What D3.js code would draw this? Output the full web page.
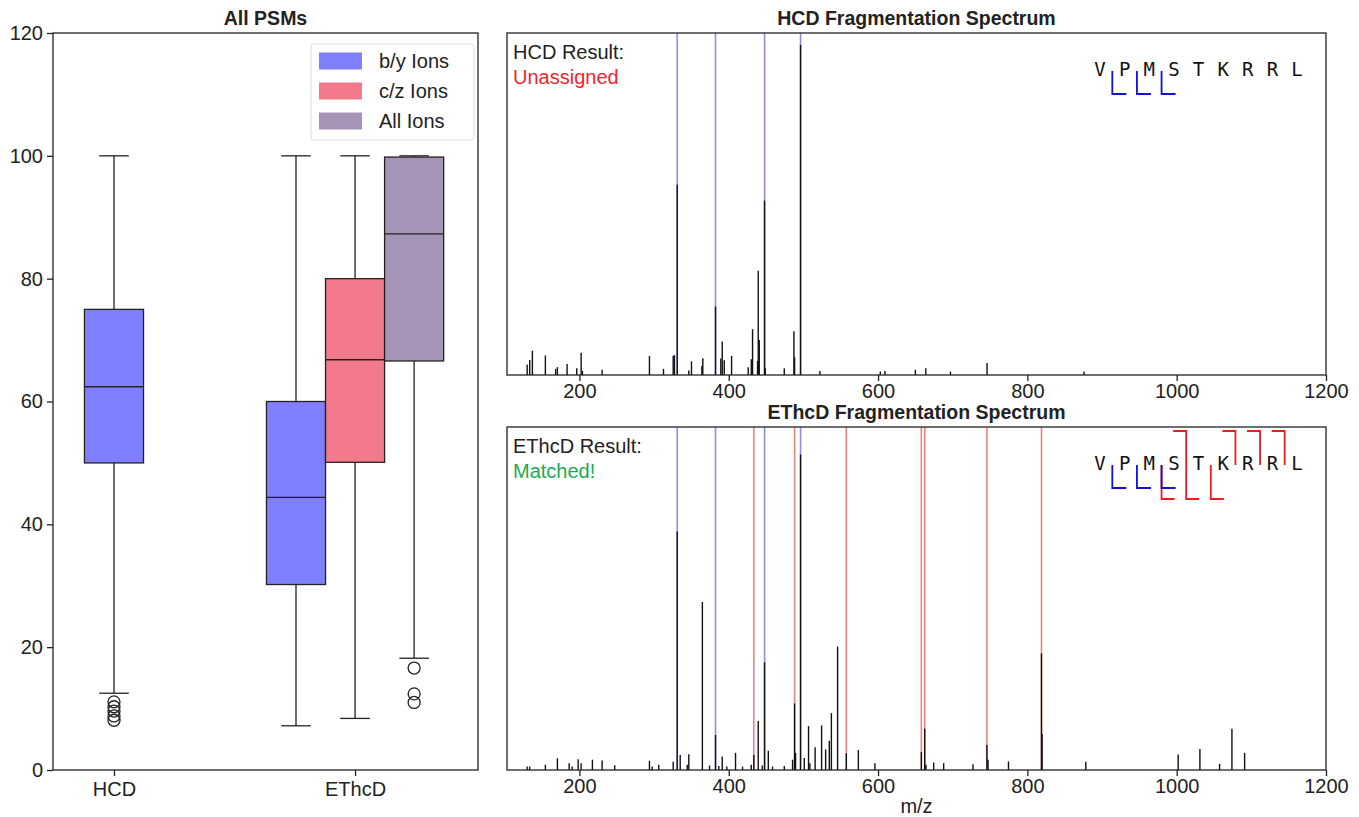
<!DOCTYPE html>
<html>
<head>
<meta charset="utf-8">
<script src="https://cdn.jsdelivr.net/npm/d3@7"></script>
<style>
  body { margin: 0; background: #fff; }
  text { font-family: "Liberation Sans", Arial, sans-serif; fill: #222; }
  .mono { font-family: "DejaVu Sans Mono", monospace; }
</style>
</head>
<body>
<svg id="chart" width="1359" height="817"></svg>
<script>
// ---- data ----
var boxGroups = ["HCD", "EThcD", "EThcD", "EThcD"];
var boxSeries = ["b/y Ions", "b/y Ions", "c/z Ions", "All Ions"];
var boxLow  = [12.5, 7.2, 8.4, 18.2];
var boxQ1   = [50, 30.2, 50.1, 66.6];
var boxMed  = [62.4, 44.4, 66.8, 87.3];
var boxQ3   = [75, 60, 80, 99.8];
var boxHigh = [100, 100, 100, 100];
var boxOutliers = [[11.1, 10.3, 9.6, 8.8, 8.1], [], [], [16.6, 12.4, 11.0]];
var seriesNames = ["b/y Ions", "c/z Ions", "All Ions"];
var seriesColors = ["#8080ff", "#f27a8c", "#a594b6"];
var yTicks = [0, 20, 40, 60, 80, 100, 120];
var mzTicks = [200, 400, 600, 800, 1000, 1200];

// HCD spectrum (m/z, relative intensity)
var hcdMz  = [130, 133.4, 137, 154.4, 168.2, 170.5, 183.5, 196.4, 202.3, 204, 230.4, 293.8, 312.6, 325.6, 327.3, 331,
  346.5, 350.1, 364, 365.3, 382.3, 389.4, 391.3, 394, 403.8, 426.1, 430.2, 431.9, 438.6, 439.5, 440.9, 448, 448.9,
  474.4, 487.3, 488.2, 496.2, 522.1, 603, 609.2, 650, 664, 697, 746, 876];
var hcdInt = [0.031, 0.044, 0.071, 0.057, 0.018, 0.023, 0.032, 0.02, 0.065, 0.012, 0.015, 0.056, 0.018, 0.056, 0.058, 0.556,
  0.013, 0.04, 0.026, 0.049, 0.20, 0.048, 0.098, 0.043, 0.056, 0.023, 0.046, 0.134, 0.041, 0.305, 0.102, 0.51, 0.02,
  0.02, 0.128, 0.052, 0.965, 0.012, 0.01, 0.012, 0.015, 0.02, 0.01, 0.035, 0.01];
var hcdBlue = [331, 382.3, 448, 496.2];

// EThcD spectrum
var ethcdMz  = [130, 133.4, 154.4, 170.5, 186.2, 190.2, 198.3, 202.3, 217.4, 230.4, 247.3, 293.8, 297.5, 306.3, 325.6,
  331, 335, 344.4, 346.5, 364.7, 374.3, 382.3, 386.7, 391.3, 397.5, 409.1, 418.5, 430.2, 433.6, 439.5, 444.9, 448, 453,
  458.7, 474.4, 485.5, 488.2, 489.5, 496.2, 501.2, 506.9, 508.7, 515.7, 524.4, 529.8, 534.7, 537.5, 545.8, 557.5,
  573.6, 595.8, 658, 662.5, 664.2, 674.5, 687.9, 727.2, 745.8, 747.3, 774.7, 818.9, 819.7, 878.3, 1002, 1031.1,
  1057.5, 1074, 1091];
var ethcdInt = [0.01, 0.01, 0.015, 0.034, 0.02, 0.01, 0.031, 0.02, 0.03, 0.028, 0.014, 0.027, 0.01, 0.015, 0.024,
  0.695, 0.044, 0.015, 0.046, 0.49, 0.013, 0.102, 0.012, 0.039, 0.01, 0.05, 0.01, 0.015, 0.044, 0.143, 0.013, 0.314, 0.056,
  0.01, 0.012, 0.03, 0.194, 0.05, 0.92, 0.035, 0.128, 0.02, 0.066, 0.13, 0.06, 0.085, 0.166, 0.36, 0.049,
  0.058, 0.02, 0.052, 0.12, 0.015, 0.022, 0.02, 0.017, 0.073, 0.03, 0.025, 0.34, 0.105, 0.024, 0.045, 0.061,
  0.018, 0.12, 0.05];
var ethcdBlue = [331, 382.3, 448, 496.2];
var ethcdRed  = [433.6, 488.2, 557.5, 658, 662.5, 745.8, 818.9];

// peptide and fragment cleavage sites (after residue n)
var peptide = ["V", "P", "M", "S", "T", "K", "R", "R", "L"];
var hcdB = [1, 2, 3];
var ethcdB = [1, 2, 3];
var ethcdC = [3, 4, 5];
var ethcdZ = [4, 6, 7, 8];

var svg = d3.select("#chart");
var dark = "#222";
var fontFam = "Liberation Sans, Arial, sans-serif";

// ---- box plot panel ----
var bx0 = 53, bx1 = 478, by0 = 33, by1 = 770;
var x = d3.scaleLinear().domain([-0.253, 1.51]).range([bx0, bx1]);
var y = d3.scaleLinear().domain([0, 120]).range([by1, by0]);
var groups = ["HCD", "EThcD"];
var bw = 0.245;

var left = svg.append("g");

// position of each box: centred in its group, dodged by series
var boxes = boxGroups.map(function(g, i) {
  var members = boxGroups.filter(function(d) { return d === g; }).length;
  var k = boxGroups.slice(0, i).filter(function(d) { return d === g; }).length;
  var pos = groups.indexOf(g) + (k - (members - 1) / 2) * bw;
  return { pos: pos, series: boxSeries[i], low: boxLow[i], q1: boxQ1[i], med: boxMed[i],
           q3: boxQ3[i], high: boxHigh[i], out: boxOutliers[i] };
});

var bg = left.selectAll(".box").data(boxes).enter().append("g").attr("class", "box");
bg.append("line")
  .attr("x1", function(d) { return x(d.pos); }).attr("x2", function(d) { return x(d.pos); })
  .attr("y1", function(d) { return y(d.q3); }).attr("y2", function(d) { return y(d.high); })
  .attr("stroke", dark).attr("stroke-width", 1.3);
bg.append("line")
  .attr("x1", function(d) { return x(d.pos); }).attr("x2", function(d) { return x(d.pos); })
  .attr("y1", function(d) { return y(d.q1); }).attr("y2", function(d) { return y(d.low); })
  .attr("stroke", dark).attr("stroke-width", 1.3);
[ "low", "high" ].forEach(function(k) {
  bg.append("line")
    .attr("x1", function(d) { return x(d.pos - bw / 4); }).attr("x2", function(d) { return x(d.pos + bw / 4); })
    .attr("y1", function(d) { return y(d[k]); }).attr("y2", function(d) { return y(d[k]); })
    .attr("stroke", dark).attr("stroke-width", 1.3);
});
bg.append("rect")
  .attr("x", function(d) { return x(d.pos - bw / 2); })
  .attr("width", x(bw) - x(0))
  .attr("y", function(d) { return y(d.q3); })
  .attr("height", function(d) { return y(d.q1) - y(d.q3); })
  .attr("fill", function(d) { return seriesColors[seriesNames.indexOf(d.series)]; })
  .attr("stroke", dark).attr("stroke-width", 1.3);
bg.append("line")
  .attr("x1", function(d) { return x(d.pos - bw / 2); }).attr("x2", function(d) { return x(d.pos + bw / 2); })
  .attr("y1", function(d) { return y(d.med); }).attr("y2", function(d) { return y(d.med); })
  .attr("stroke", dark).attr("stroke-width", 1.3);
bg.each(function(d) {
  d3.select(this).selectAll("circle").data(d.out).enter().append("circle")
    .attr("cx", x(d.pos)).attr("cy", function(v) { return y(v); }).attr("r", 6)
    .attr("fill", "none").attr("stroke", dark).attr("stroke-width", 1.3);
});

left.append("rect").attr("x", bx0).attr("y", by0).attr("width", bx1 - bx0).attr("height", by1 - by0)
  .attr("fill", "none").attr("stroke", dark).attr("stroke-width", 1.3);

var yAxis = left.append("g").attr("transform", "translate(" + bx0 + ",0)")
  .call(d3.axisLeft(y).tickValues(yTicks).tickSize(6).tickPadding(4));
var xAxisBox = left.append("g").attr("transform", "translate(0," + by1 + ")")
  .call(d3.axisBottom(x).tickValues([0, 1]).tickFormat(function(d) { return groups[d]; }).tickSize(6).tickPadding(6));
[yAxis, xAxisBox].forEach(function(a) {
  a.select(".domain").remove();
  a.selectAll("line").attr("stroke", dark).attr("stroke-width", 1.3);
  a.selectAll("text").style("font-size", "20px").style("font-family", fontFam).attr("fill", dark);
});

left.append("text").attr("x", (bx0 + bx1) / 2).attr("y", 25).attr("text-anchor", "middle")
  .style("font-size", "19.5px").style("font-weight", "bold").text("All PSMs");

// legend
var lg = left.append("g").attr("transform", "translate(311,44)");
lg.append("rect").attr("width", 163).attr("height", 96).attr("rx", 3)
  .attr("fill", "#fff").attr("stroke", "#ddd").attr("stroke-width", 1);
seriesNames.forEach(function(s, i) {
  lg.append("rect").attr("x", 8).attr("y", 8.5 + i * 30).attr("width", 43).attr("height", 17)
    .attr("fill", seriesColors[i]);
  lg.append("text").attr("x", 68).attr("y", 24 + i * 30).style("font-size", "20px").text(s);
});

// ---- spectrum panels ----
var sx0 = 507, sx1 = 1326;
var mz = d3.scaleLinear().domain([103, 1200]).range([sx0, sx1]);

function spectrum(top, bottom, title, mzs, ints, blue, red, resultLabel, status, statusColor, bIons, cIons, zIons) {
  var g = svg.append("g");
  var iy = d3.scaleLinear().domain([0, 1]).range([bottom, top]);

  g.selectAll(".ann-red").data(red).enter().append("line")
    .attr("x1", function(d) { return mz(d); }).attr("x2", function(d) { return mz(d); })
    .attr("y1", iy(0)).attr("y2", iy(1))
    .attr("stroke", "#f08080").attr("stroke-width", 1.6);
  g.selectAll(".ann-blue").data(blue).enter().append("line")
    .attr("x1", function(d) { return mz(d); }).attr("x2", function(d) { return mz(d); })
    .attr("y1", iy(0)).attr("y2", iy(1))
    .attr("stroke", "#8c8cf2").attr("stroke-width", 1.6);

  g.selectAll(".peak").data(mzs).enter().append("line")
    .attr("x1", function(d) { return mz(d); }).attr("x2", function(d) { return mz(d); })
    .attr("y1", iy(0)).attr("y2", function(d, i) { return iy(ints[i]); })
    .attr("stroke", "#111").attr("stroke-width", 1.4);

  g.append("rect").attr("x", sx0).attr("y", top).attr("width", sx1 - sx0).attr("height", bottom - top)
    .attr("fill", "none").attr("stroke", dark).attr("stroke-width", 1.3);

  var ax = g.append("g").attr("transform", "translate(0," + bottom + ")")
    .call(d3.axisBottom(mz).tickValues(mzTicks).tickFormat(d3.format("d")).tickSize(6).tickPadding(3));
  ax.select(".domain").remove();
  ax.selectAll("line").attr("stroke", dark).attr("stroke-width", 1.3);
  ax.selectAll("text").style("font-size", "20px").style("font-family", fontFam).attr("fill", dark);

  g.append("text").attr("x", (sx0 + sx1) / 2).attr("y", top - 8).attr("text-anchor", "middle")
    .style("font-size", "19.5px").style("font-weight", "bold").text(title);

  g.append("text").attr("x", 513).attr("y", top + 26).style("font-size", "20px").text(resultLabel);
  g.append("text").attr("x", 513).attr("y", top + 51).style("font-size", "20px")
    .style("fill", statusColor).text(status);

  // peptide sequence with fragment brackets
  var cy = top + 36;
  var px = d3.scalePoint().domain(d3.range(peptide.length)).range([1100, 1297]);
  var step = px.step();
  g.selectAll(".aa").data(peptide).enter().append("text")
    .attr("class", "mono").attr("x", function(d, i) { return px(i); }).attr("y", cy + 7)
    .attr("text-anchor", "middle").style("font-size", "19px").style("fill", "#111").text(function(d) { return d; });
  var cut = function(n) { return px(n - 1) + step / 2; };
  var pen = d3.line();
  cIons.forEach(function(n) {
    g.append("path").attr("d", pen([[cut(n), cy + 2], [cut(n), cy + 36], [cut(n) + 13, cy + 36]]))
      .attr("fill", "none").attr("stroke", "#ee1c1c").attr("stroke-width", 1.8);
  });
  zIons.forEach(function(n) {
    g.append("path").attr("d", pen([[cut(n) - 13, cy - 32], [cut(n), cy - 32], [cut(n), cy + 2]]))
      .attr("fill", "none").attr("stroke", "#ee1c1c").attr("stroke-width", 1.8);
  });
  bIons.forEach(function(n) {
    g.append("path").attr("d", pen([[cut(n), cy + 2], [cut(n), cy + 25], [cut(n) + 14, cy + 25]]))
      .attr("fill", "none").attr("stroke", "#1010e0").attr("stroke-width", 1.8);
  });
  return g;
}

spectrum(33, 375, "HCD Fragmentation Spectrum", hcdMz, hcdInt, hcdBlue, [],
  "HCD Result:", "Unassigned", "#f5222d", hcdB, [], []);
spectrum(427, 770, "EThcD Fragmentation Spectrum", ethcdMz, ethcdInt, ethcdBlue, ethcdRed,
  "EThcD Result:", "Matched!", "#1aab4f", ethcdB, ethcdC, ethcdZ);

svg.append("text").attr("x", (sx0 + sx1) / 2).attr("y", 813).attr("text-anchor", "middle")
  .style("font-size", "20px").text("m/z");
</script>
</body>
</html>
